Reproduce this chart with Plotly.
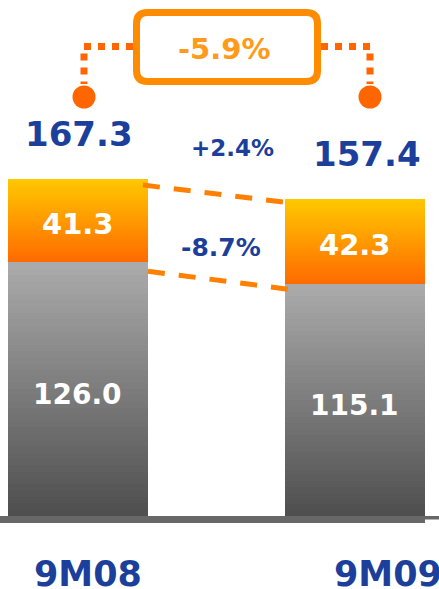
import plotly.graph_objects as go

# ---------------- data ----------------
categories = ["9M08", "9M09"]
base_values = [126.0, 115.1]      # grey segment
top_values = [41.3, 42.3]         # orange segment
totals = [167.3, 157.4]
change_top = "+2.4%"
change_base = "-8.7%"
change_total = "-5.9%"

# ---------------- geometry / style ----------------
W, H = 439, 589
MB = 73
PLOT_H = H - MB            # 516 px plot height
Y_MAX = 256.2
X_RANGE = [-0.2816, 1.3032]
BAR_W = 0.505
N_SLICES = 40

BLUE = "#1B3F9A"
ORANGE_DOT = "#FF6600"
ORANGE_BOX = "#FF8C00"
ORANGE_DASH = "#FF8000"
FONT = "DejaVu Sans"


def PX(px):  # pixel x -> paper
    return px / W


def PY(py):  # pixel y -> paper
    return (PLOT_H - py) / PLOT_H


def mix(c0, c1, t):
    return "rgb({},{},{})".format(*[round(a + (b - a) * t) for a, b in zip(c0, c1)])


xs = list(range(len(categories)))
fig = go.Figure()

segments = [
    (base_values, (0x4E, 0x4E, 0x4E), (0xAB, 0xAB, 0xAB)),
    (top_values, (0xFF, 0x6A, 0x00), (0xFF, 0xC8, 0x00)),
]
for vals, c_bot, c_top in segments:
    for k in range(N_SLICES):
        t = (k + 0.5) / N_SLICES
        fig.add_trace(go.Bar(
            x=xs, y=[v / N_SLICES for v in vals], width=BAR_W,
            marker=dict(color=mix(c_bot, c_top, t), line=dict(width=0)),
            hoverinfo="skip", showlegend=False,
        ))

C = dict(showarrow=False, xanchor="center", yanchor="middle")
annotations = []
# totals above bars
for i, (tot, xsh) in enumerate(zip(totals, [0.5, 11.5])):
    annotations.append(dict(x=i, y=tot, xref="x", yref="y", text=f"{tot:.1f}",
                            yshift=45, xshift=xsh, **C,
                            font=dict(family=FONT, size=34, color=BLUE, weight="bold")))
# orange segment labels
for i, (b, t) in enumerate(zip(base_values, top_values)):
    annotations.append(dict(x=i, y=b + t / 2, xref="x", yref="y", text=f"{t:.1f}",
                            yshift=-3, **C,
                            font=dict(family=FONT, size=29, color="white", weight="bold")))
# grey segment labels
for i, b in enumerate(base_values):
    annotations.append(dict(x=i, y=b / 2, xref="x", yref="y", text=f"{b:.1f}",
                            yshift=-5, xshift=-1, **C,
                            font=dict(family=FONT, size=28, color="white", weight="bold")))
# category labels
for i, (c, xsh) in enumerate(zip(categories, [9.5, 32.5])):
    annotations.append(dict(x=i, y=PY(574), xref="x", yref="paper", text=c,
                            xshift=xsh, **C,
                            font=dict(family=FONT, size=35, color=BLUE, weight="bold")))
# change labels
annotations.append(dict(x=PX(232), y=PY(148.5), xref="paper", yref="paper", text=change_top, **C,
                        font=dict(family=FONT, size=23, color=BLUE, weight="bold")))
annotations.append(dict(x=PX(221), y=PY(248), xref="paper", yref="paper", text=change_base, **C,
                        font=dict(family=FONT, size=25, color=BLUE, weight="bold")))
annotations.append(dict(x=PX(224), y=PY(49), xref="paper", yref="paper", text=change_total, **C,
                        font=dict(family=FONT, size=29, color="#FF9A1A", weight="bold")))

shapes = []
# rounded box
x0, x1, y0, y1, r = 136.5, 317.5, 12.5, 81.5, 11
pts = (f"M {PX(x0 + r)},{PY(y0)} L {PX(x1 - r)},{PY(y0)} Q {PX(x1)},{PY(y0)} {PX(x1)},{PY(y0 + r)} "
       f"L {PX(x1)},{PY(y1 - r)} Q {PX(x1)},{PY(y1)} {PX(x1 - r)},{PY(y1)} "
       f"L {PX(x0 + r)},{PY(y1)} Q {PX(x0)},{PY(y1)} {PX(x0)},{PY(y1 - r)} "
       f"L {PX(x0)},{PY(y0 + r)} Q {PX(x0)},{PY(y0)} {PX(x0 + r)},{PY(y0)} Z")
shapes.append(dict(type="path", xref="paper", yref="paper", path=pts,
                   line=dict(color=ORANGE_BOX, width=7), fillcolor="rgba(0,0,0,0)"))
# dotted brackets
shapes.append(dict(type="path", xref="paper", yref="paper",
                   path=f"M {PX(133)},{PY(46.5)} L {PX(84)},{PY(46.5)} L {PX(84)},{PY(84)}",
                   line=dict(color=ORANGE_DOT, width=7, dash="dot")))
shapes.append(dict(type="path", xref="paper", yref="paper",
                   path=f"M {PX(321)},{PY(46.5)} L {PX(370)},{PY(46.5)} L {PX(370)},{PY(84)}",
                   line=dict(color=ORANGE_DOT, width=7, dash="dot")))
for cx in (84, 370):
    shapes.append(dict(type="circle", xref="paper", yref="paper",
                       x0=PX(cx - 11.5), x1=PX(cx + 11.5), y0=PY(97 + 11.5), y1=PY(97 - 11.5),
                       fillcolor=ORANGE_DOT, line=dict(width=0)))
# dashed connectors between bars
half = BAR_W / 2
shapes.append(dict(type="line", xref="x", yref="y",
                   x0=xs[0] + half - 0.018, y0=totals[0] - 3,
                   x1=xs[1] - half - 0.007, y1=totals[1] - 1.5,
                   line=dict(color=ORANGE_DASH, width=5, dash="17px,14px")))
shapes.append(dict(type="line", xref="x", yref="y",
                   x0=xs[0] + half, y0=base_values[0] - 4.5,
                   x1=xs[1] - half + 0.012, y1=base_values[1] - 2.5,
                   line=dict(color=ORANGE_DASH, width=5, dash="17px,14px")))
# baseline
shapes.append(dict(type="rect", xref="paper", yref="paper", x0=0, x1=PX(425),
                   y0=PY(523), y1=PY(516), fillcolor="#676767", line=dict(width=0)))
shapes.append(dict(type="rect", xref="paper", yref="paper", x0=PX(425), x1=1,
                   y0=PY(519.5), y1=PY(516), fillcolor="#676767", line=dict(width=0)))

fig.update_layout(
    width=W, height=H, barmode="stack",
    margin=dict(l=0, r=0, t=0, b=MB, pad=0),
    paper_bgcolor="white", plot_bgcolor="white",
    xaxis=dict(visible=False, range=X_RANGE),
    yaxis=dict(visible=False, range=[0, Y_MAX]),
    annotations=annotations, shapes=shapes,
    showlegend=False,
)
fig.write_html("out.html", config={"displayModeBar": False},
               post_script="document.body.style.margin='0';document.body.style.overflow='hidden';")
